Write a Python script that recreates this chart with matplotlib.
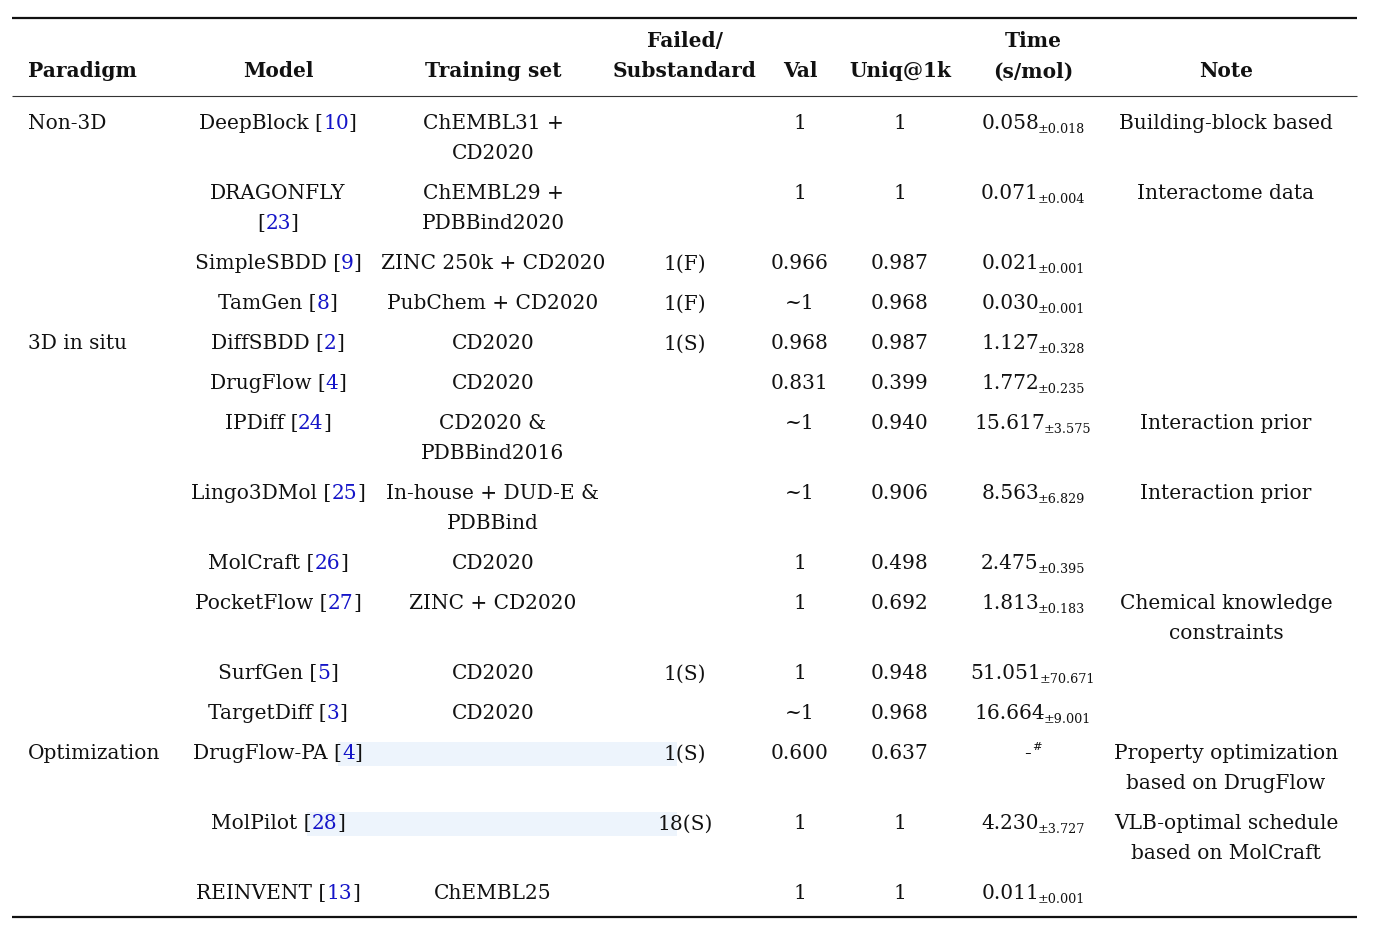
import matplotlib
matplotlib.use("Agg")
import matplotlib.pyplot as plt
from matplotlib.patches import Rectangle

# ---------------- data ----------------
headers_top = ["", "", "", "Failed/", "", "", "Time", ""]
headers_bot = ["Paradigm", "Model", "Training set", "Substandard", "Val", "Uniq@1k", "(s/mol)", "Note"]

paradigms = ["Non-3D", "", "", "", "3D in situ", "", "", "", "", "", "", "", "Optimization", "", ""]
models = ["DeepBlock", "DRAGONFLY", "SimpleSBDD", "TamGen", "DiffSBDD", "DrugFlow", "IPDiff",
          "Lingo3DMol", "MolCraft", "PocketFlow", "SurfGen", "TargetDiff", "DrugFlow-PA",
          "MolPilot", "REINVENT"]
refs = ["10", "23", "9", "8", "2", "4", "24", "25", "26", "27", "5", "3", "4", "28", "13"]
training = ["ChEMBL31 +\nCD2020", "ChEMBL29 +\nPDBBind2020", "ZINC 250k + CD2020",
            "PubChem + CD2020", "CD2020", "CD2020", "CD2020 &\nPDBBind2016",
            "In-house + DUD-E &\nPDBBind", "CD2020", "ZINC + CD2020", "CD2020", "CD2020",
            "", "", "ChEMBL25"]
failed = ["", "", "1(F)", "1(F)", "1(S)", "", "", "", "", "", "1(S)", "", "1(S)", "18(S)", ""]
val = ["1", "1", "0.966", "~1", "0.968", "0.831", "~1", "~1", "1", "1", "1", "~1", "0.600", "1", "1"]
uniq = ["1", "1", "0.987", "0.968", "0.987", "0.399", "0.940", "0.906", "0.498", "0.692",
        "0.948", "0.968", "0.637", "1", "1"]
time_mean = ["0.058", "0.071", "0.021", "0.030", "1.127", "1.772", "15.617", "8.563", "2.475",
             "1.813", "51.051", "16.664", "-", "4.230", "0.011"]
time_std = ["0.018", "0.004", "0.001", "0.001", "0.328", "0.235", "3.575", "6.829", "0.395",
            "0.183", "70.671", "9.001", "#", "3.727", "0.001"]
notes = ["Building-block based", "Interactome data", "", "", "", "", "Interaction prior",
         "Interaction prior", "", "Chemical knowledge\nconstraints", "", "",
         "Property optimization\nbased on DrugFlow", "VLB-optimal schedule\nbased on MolCraft", ""]
shaded = [False] * 12 + [True, True, False]

# ---------------- style / layout ----------------
FONT = "DejaVu Serif"
FS = 14.5
SUB = 9.2
TXT = "#111111"
BLUE = "#1414C8"
SHADE = "#EDF4FC"

W, H = 1382, 926
col_x = {"par": 28, "model": 278, "train": 493, "fail": 685, "val": 800,
         "uniq": 900, "time": 1033, "note": 1226}
LINE = 30
GAP1 = 40
BASE = 7.3  # baseline offset from visual center

fig = plt.figure(figsize=(W / 100, H / 100), dpi=100)
ax = fig.add_axes([0, 0, 1, 1])
ax.set_xlim(0, W)
ax.set_ylim(H, 0)
ax.axis("off")
renderer = fig.canvas.get_renderer()


def measure(s, size=FS, weight="normal"):
    t = ax.text(0, 0, s, fontsize=size, family=FONT, fontweight=weight, ha="left", va="baseline")
    w = t.get_window_extent(renderer=renderer).width
    t.remove()
    return w


def colored(x, y, pieces, size=FS, ha="center"):
    """pieces: list of (text, color) laid out as one string."""
    full = "".join(p for p, _ in pieces)
    total = measure(full, size)
    x0 = x - total / 2 if ha == "center" else x
    prefix = ""
    xs = []
    for s, c in pieces:
        prefix += s
        px = x0 + measure(prefix, size) - measure(s, size)
        xs.append(px)
        ax.text(px, y + BASE, s, color=c, fontsize=size, family=FONT,
                va="baseline", ha="left", zorder=3)
    return xs


def value_sub(x, y, main, sub, dy, subsize, gap=-1.5):
    w1 = measure(main, FS)
    w2 = measure(sub, subsize)
    x0 = x - (w1 + w2 + gap) / 2
    ax.text(x0, y + BASE, main, color=TXT, fontsize=FS, family=FONT,
            va="baseline", ha="left", zorder=3)
    ax.text(x0 + w1 + gap, y + BASE + dy, sub, color=TXT, fontsize=subsize, family=FONT,
            va="baseline", ha="left", zorder=3)


def cell(x, y, s, ha="center", weight="normal"):
    for k, line in enumerate(s.split("\n")):
        ax.text(x, y + BASE + k * LINE, line, color=TXT, fontsize=FS, family=FONT,
                va="baseline", ha=ha, fontweight=weight, zorder=3)


# rules
ax.plot([12, 1357], [18, 18], color="#111111", lw=1.6, solid_capstyle="butt")
ax.plot([12, 1357], [96, 96], color="#333333", lw=0.8, solid_capstyle="butt")
ax.plot([12, 1357], [917, 917], color="#111111", lw=1.6, solid_capstyle="butt")

# headers
keys = ["par", "model", "train", "fail", "val", "uniq", "time", "note"]
for k, top, bot in zip(keys, headers_top, headers_bot):
    ha = "left" if k == "par" else "center"
    if top:
        cell(col_x[k], 40, top, ha=ha, weight="bold")
    cell(col_x[k], 70, bot, ha=ha, weight="bold")

# body
y = 122
for i in range(len(models)):
    model_lines = 2 if models[i] == "DRAGONFLY" else 1
    nlines = max(model_lines, training[i].count("\n") + 1, notes[i].count("\n") + 1)

    cell(col_x["par"], y, paradigms[i], ha="left")

    if model_lines == 2:
        cell(col_x["model"], y, models[i])
        colored(col_x["model"], y + LINE, [("[", TXT), (refs[i], BLUE), ("]", TXT)])
    else:
        xs = colored(col_x["model"], y, [(models[i] + " [", TXT), (refs[i], BLUE), ("]", TXT)])
        if shaded[i]:
            x_start = xs[1] - 4
            ax.add_patch(Rectangle((x_start, y - 10), 677 - x_start, 24, facecolor=SHADE,
                                   edgecolor="none", zorder=1))

    cell(col_x["train"], y, training[i])
    cell(col_x["fail"], y, failed[i])
    cell(col_x["val"], y, val[i])
    cell(col_x["uniq"], y, uniq[i])

    if time_std[i] == "#":
        value_sub(col_x["time"], y, time_mean[i], time_std[i], -9, SUB - 1, gap=0.5)
    else:
        value_sub(col_x["time"], y, time_mean[i], "\u00b1" + time_std[i], 4, SUB)

    cell(col_x["note"], y, notes[i])

    y += GAP1 + LINE * (nlines - 1)

fig.savefig("out.png", dpi=100)
